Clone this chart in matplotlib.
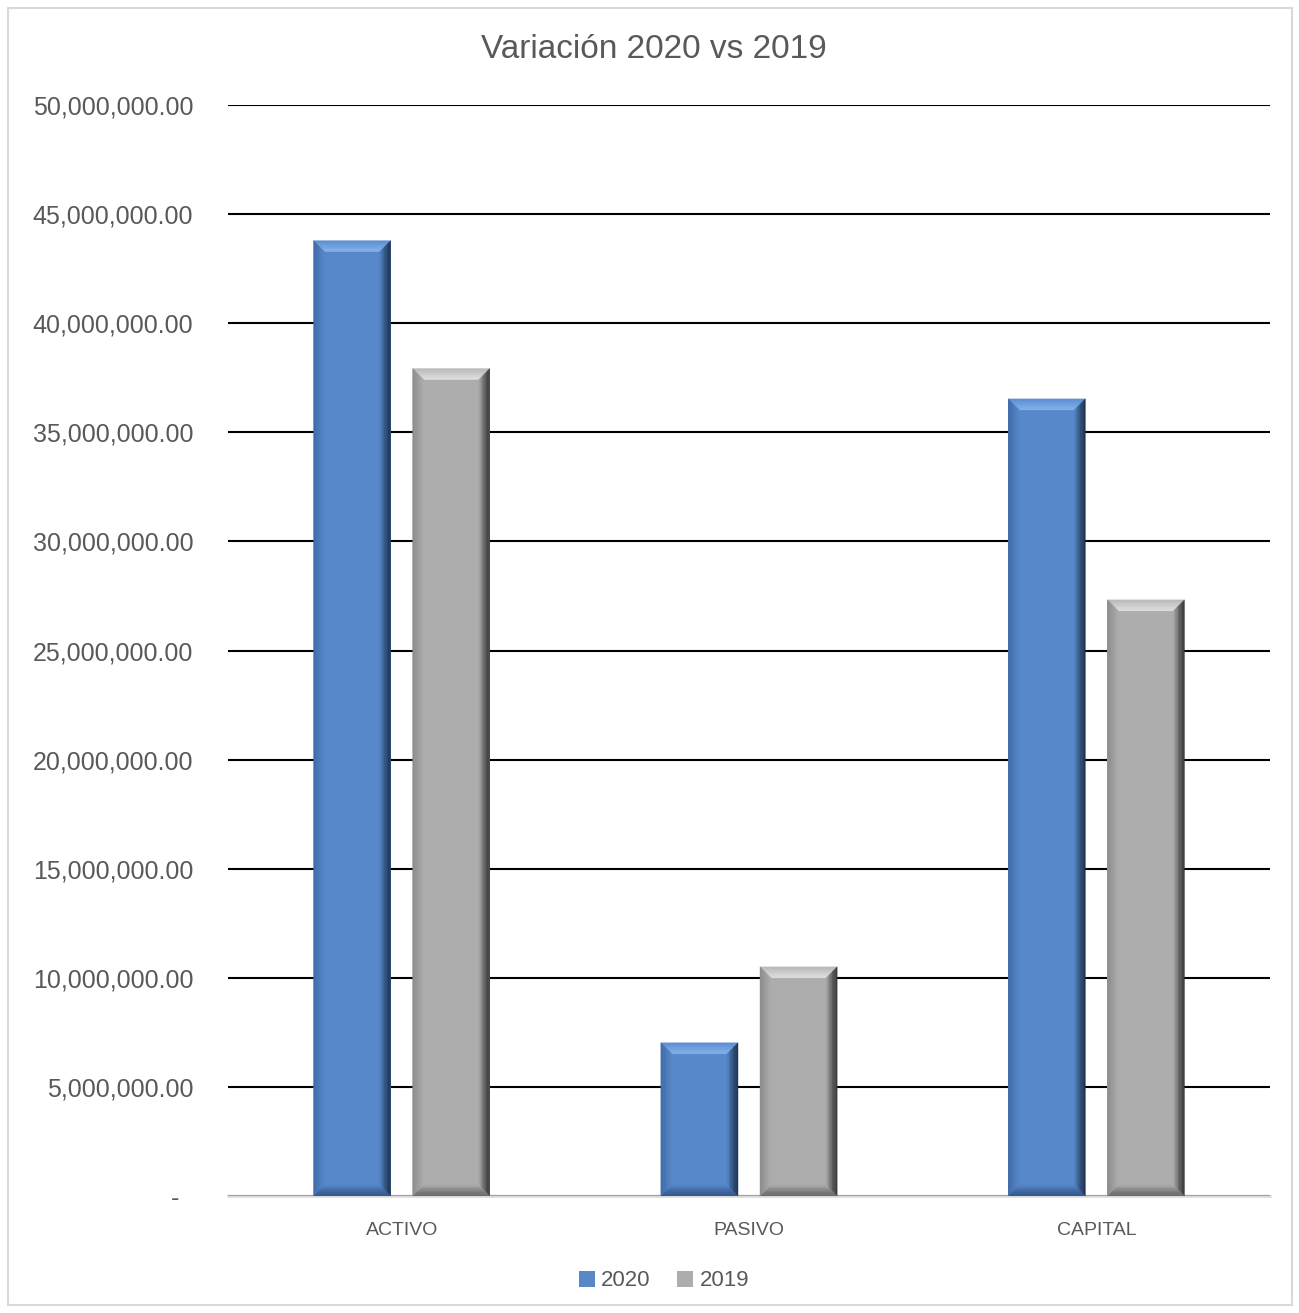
import matplotlib
matplotlib.use("Agg")
import matplotlib.pyplot as plt
from matplotlib.patches import Polygon, Rectangle
from matplotlib.ticker import FixedLocator, FuncFormatter
from matplotlib.colors import to_rgb
import numpy as np

categories = ["ACTIVO", "PASIVO", "CAPITAL"]
series_names = ["2020", "2019"]
values_2020 = [43.78e6, 7.02e6, 36.53e6]
values_2019 = [37.92e6, 10.50e6, 27.32e6]
y_ticks = [0, 5e6, 10e6, 15e6, 20e6, 25e6, 30e6, 35e6, 40e6, 45e6, 50e6]
title = "Variación 2020 vs 2019"

plt.rcParams['font.family'] = ['Liberation Sans', 'DejaVu Sans']

W, H = 1299, 1313
fig = plt.figure(figsize=(W / 100, H / 100), dpi=100)
ax = fig.add_axes([228 / W, (H - 1196) / H, 1042 / W, 1091 / H])

# figure border
fig.patches.append(Rectangle((8 / W, 8 / H), 1284 / W, 1297 / H, transform=fig.transFigure,
                             fill=False, edgecolor="#d9d9d9", linewidth=1.5))

x = np.arange(len(categories))
bw = 0.222
off = 0.1427
blue = "#5688CA"
gray = "#ADADAD"

ax.set_xlim(-0.5, len(categories) - 0.5)
ax.set_ylim(0, 50e6)

b1 = ax.bar(x - off, values_2020, bw, color=blue, zorder=3, label=series_names[0])
b2 = ax.bar(x + off, values_2019, bw, color=gray, zorder=3, label=series_names[1])

axw_px, axh_px = 1042, 1091


def mix(c1, c2, t):
    a, b = np.array(to_rgb(c1)), np.array(to_rgb(c2))
    return tuple(a * (1 - t) + b * t)


def bevel(bars, face, top_c, left_c, right_c, bot_c, bpx=11, n=8):
    xr = ax.get_xlim()[1] - ax.get_xlim()[0]
    yr = ax.get_ylim()[1] - ax.get_ylim()[0]
    ux = xr / axw_px
    uy = yr / axh_px
    for r in bars:
        X0, Y0 = r.get_x(), r.get_y()
        X1, Y1 = X0 + r.get_width(), Y0 + r.get_height()
        for i in range(n):
            a = bpx * i / n
            b = bpx * (i + 1) / n
            t = (i + 0.5) / n
            # outer rect at depth a, inner at depth b
            ox0, ox1, oy0, oy1 = X0 + a * ux, X1 - a * ux, Y0 + a * uy, Y1 - a * uy
            ix0, ix1, iy0, iy1 = X0 + b * ux, X1 - b * ux, Y0 + b * uy, Y1 - b * uy
            tc = mix(top_c[0], top_c[1], t) if isinstance(top_c, tuple) else mix(top_c, face, t ** 2)
            polys = [
                ([(ox0, oy1), (ox1, oy1), (ix1, iy1), (ix0, iy1)], tc),
                ([(ox1, oy1), (ox1, oy0), (ix1, iy0), (ix1, iy1)], mix(right_c, face, t ** 1.5)),
                ([(ox0, oy0), (ox1, oy0), (ix1, iy0), (ix0, iy0)], mix(bot_c, face, t ** 1.5)),
                ([(ox0, oy0), (ox0, oy1), (ix0, iy1), (ix0, iy0)], mix(left_c, face, t)),
            ]
            for pts, c in polys:
                ax.add_patch(Polygon(pts, closed=True, facecolor=c, edgecolor=c,
                                     linewidth=0.3, zorder=4))


bevel(b1, blue, ("#5C8ED0", "#86B4EE"), "#3F6AA6", "#1F3552", "#34578A")
bevel(b2, gray, ("#B8B8B8", "#E2E2E2"), "#8A8A8A", "#3A3A3A", "#6A6A6A")

ax.yaxis.set_major_locator(FixedLocator(y_ticks))
ax.yaxis.set_major_formatter(FuncFormatter(lambda v, p: "-  " if v == 0 else f"{v:,.2f}"))
ax.set_xticks(x)
ax.set_xticklabels(categories)

ax.grid(axis="y", color="black", linewidth=1.5, zorder=1)
ax.set_axisbelow(True)
for s in ["left", "right", "top"]:
    ax.spines[s].set_visible(False)
ax.spines["bottom"].set_color("#d9d9d9")
ax.spines["bottom"].set_linewidth(1.8)
ax.spines["bottom"].set_zorder(2)

ax.tick_params(axis="y", length=0, pad=25, labelsize=18, labelcolor="#595959")
ax.tick_params(axis="x", length=0, pad=19, labelsize=14, labelcolor="#595959")

fig.text(654 / W, 1 - 49 / H, title, ha="center", va="center", fontsize=24, color="#595959")

leg = fig.legend(handles=[b1, b2], labels=series_names, loc="center",
                 bbox_to_anchor=(664 / W, 1 - 1281 / H), ncol=2, frameon=False,
                 fontsize=16, labelcolor="#595959", handlelength=0.7, handleheight=0.7,
                 handletextpad=0.3, columnspacing=1.2)

fig.savefig("out.png", dpi=100)
